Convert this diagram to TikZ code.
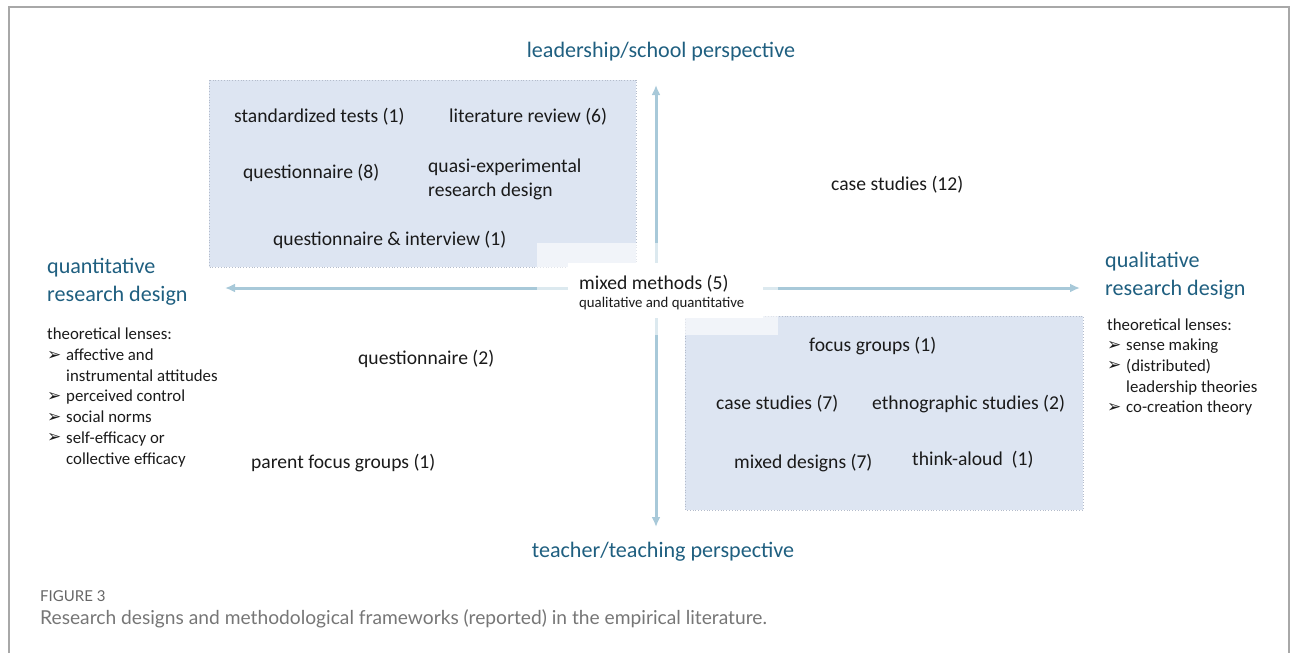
\documentclass[tikz,border=0pt]{standalone}
\usepackage{fontspec}
\setmainfont{Carlito}
\newfontfamily\capfont{Lato}
\newfontfamily\symfont{DejaVu Sans}
\usetikzlibrary{arrows.meta}

\definecolor{headblue}{HTML}{1F5F80}
\definecolor{axisblue}{HTML}{A8C9D9}
\definecolor{boxfill}{HTML}{DDE5F2}
\definecolor{boxline}{HTML}{B4BCCB}
\definecolor{framegray}{HTML}{A8A8A8}
\definecolor{capgray}{HTML}{767676}
\definecolor{fignumgray}{HTML}{666666}
\definecolor{ink}{HTML}{1A1A1A}

% arrow-head bullet and the hanging indent of continued lines
\newcommand{\lensbul}{\makebox[19pt][l]{\raisebox{0.5pt}{\symfont\bfseries\fontsize{17}{17}\selectfont ➢}}}
\newcommand{\lensind}{\hspace*{19pt}}

\tikzset{
  itemtxt/.style={inner sep=0pt, text=ink, anchor=west, align=left,
                  font=\fontsize{19.6}{24}\selectfont},
  head/.style={inner sep=0pt, text=headblue, align=left,
               font=\fontsize{22.1}{28}\selectfont},
  lens/.style={inner sep=0pt, text=ink, align=left, anchor=west,
               font=\fontsize{16.8}{20.7}\selectfont},
  quadrant/.style={fill=boxfill, draw=boxline, line width=0.8pt, dotted},
  axis/.style={draw=axisblue, line width=3pt,
               {Latex[length=10pt,width=9pt]}-{Latex[length=10pt,width=9pt]}},
}

\begin{document}
\begin{tikzpicture}[x=1pt,y=-1pt]
  \useasboundingbox (0,0) rectangle (1295,653);

  % outer frame, open at the bottom
  \draw[framegray, line width=1.5pt] (9,653) -- (9,7) -- (1289,7) -- (1289,653);

  % shaded quadrants
  \path[quadrant] (209,80) rectangle (636,267);
  \path[quadrant] (685,316) rectangle (1083,510);

  % axes
  \coordinate (W) at (225,288);
  \coordinate (E) at (1080,288);
  \coordinate (N) at (656,85);
  \coordinate (S) at (656,527);
  \draw[axis] (W) -- (E);
  \draw[axis] (N) -- (S);

  % white backdrop behind the centre label
  \fill[white, opacity=0.6] (537,243) rectangle (778,335);
  \fill[white] (568,263) rectangle (763,318);

  % axis titles
  \node[head, anchor=center] (lead) at (661,52) {leadership/school perspective};
  \node[head, anchor=center] (teach) at (663,552) {teacher/teaching perspective};
  \node[head, anchor=west] (quant) at (47,282) {quantitative\\research design};
  \node[head, anchor=west] (qual) at (1105,276) {qualitative\\research design};

  % theoretical lenses
  \node[lens] (lensL) at (47,397.5) {theoretical lenses:\\
    \lensbul affective and\\
    \lensind instrumental attitudes\\
    \lensbul perceived control\\
    \lensbul social norms\\
    \lensbul self-efficacy or\\
    \lensind collective efficacy};
  \node[lens] (lensR) at (1107,367) {theoretical lenses:\\
    \lensbul sense making\\
    \lensbul (distributed)\\
    \lensind leadership theories\\
    \lensbul co-creation theory};

  % upper-left quadrant
  \node[itemtxt] (std) at (234,117) {standardized tests (1)};
  \node[itemtxt] (lit) at (449,117) {literature review (6)};
  \node[itemtxt] (q8) at (243,173) {questionnaire (8)};
  \node[itemtxt] (quasi) at (428,179) {quasi-experimental\\research design};
  \node[itemtxt] (qi) at (273,240) {questionnaire \& interview (1)};

  % upper-right quadrant
  \node[itemtxt] (cs12) at (831,185) {case studies (12)};

  % centre
  \node[itemtxt] (mm) at (579,284) {mixed methods (5)};
  \node[inner sep=0pt, text=ink, anchor=west, font=\fontsize{14.8}{18}\selectfont]
    (mmsub) at (579,304) {qualitative and quantitative};

  % lower-left quadrant
  \node[itemtxt] (q2) at (358,359) {questionnaire (2)};
  \node[itemtxt] (pfg) at (251,463) {parent focus groups (1)};

  % lower-right quadrant
  \node[itemtxt] (fg) at (809,346) {focus groups (1)};
  \node[itemtxt] (cs7) at (716,404) {case studies (7)};
  \node[itemtxt] (eth) at (872,404) {ethnographic studies (2)};
  \node[itemtxt] (md) at (734,463) {mixed designs (7)};
  \node[itemtxt] (ta) at (912,460) {think-aloud\ \ (1)};

  % caption
  \node[inner sep=0pt, anchor=west, text=fignumgray,
        font=\capfont\fontsize{15}{17}\selectfont] (fignum) at (40,596) {FIGURE 3};
  \node[inner sep=0pt, anchor=west, text=capgray,
        font=\capfont\fontsize{19.2}{22}\selectfont] (cap) at (40,619)
    {Research designs and methodological frameworks (reported) in the empirical literature.};
\end{tikzpicture}
\end{document}
